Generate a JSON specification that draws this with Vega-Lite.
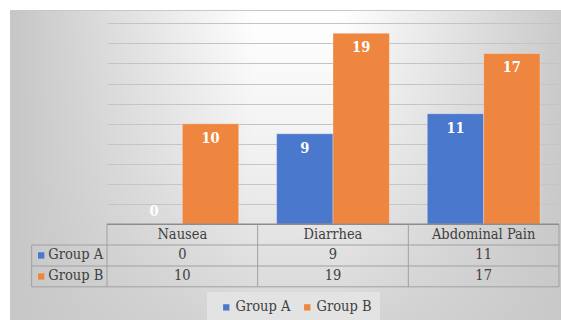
{
  "$schema": "https://vega.github.io/schema/vega-lite/v6.json",
  "width": 551,
  "height": 310,
  "autosize": {"type": "none"},
  "padding": {"left": 10, "top": 10, "right": 0, "bottom": 0},
  "background": "#ffffff",
  "view": {
    "fill": {
      "gradient": "linear", "x1": 0, "y1": 0, "x2": 1, "y2": 0,
      "stops": [
        {"offset": 0, "color": "#c6c6c6"},
        {"offset": 0.44, "color": "#ffffff"},
        {"offset": 0.6, "color": "#ffffff"},
        {"offset": 1, "color": "#cacaca"}
      ]
    },
    "stroke": "#c8c8c8"
  },
  "config": {"font": "DejaVu Serif Condensed, DejaVu Serif"},
  "data": {
    "values": [
      {"symptom": "Nausea", "group": "Group A", "count": 0},
      {"symptom": "Nausea", "group": "Group B", "count": 10},
      {"symptom": "Diarrhea", "group": "Group A", "count": 9},
      {"symptom": "Diarrhea", "group": "Group B", "count": 19},
      {"symptom": "Abdominal Pain", "group": "Group A", "count": 11},
      {"symptom": "Abdominal Pain", "group": "Group B", "count": 17}
    ]
  },
  "layer": [
    {
      "data": {"values": [{}]},
      "mark": {
        "type": "rect",
        "fill": {
          "gradient": "linear", "x1": 0, "y1": 0, "x2": 0, "y2": 1,
          "stops": [
            {"offset": 0, "color": "rgba(200,200,200,0)"},
            {"offset": 0.5, "color": "rgba(200,200,200,0.28)"},
            {"offset": 1, "color": "rgba(200,200,200,0.75)"}
          ]
        }
      },
      "encoding": {
        "y": {"datum": 21.32, "type": "quantitative"},
        "y2": {"datum": -9.52}
      }
    },
    {
      "mark": {"type": "bar", "stroke": "#ffffff", "strokeWidth": 0.6, "strokeOpacity": 0.5},
      "encoding": {
        "x": {
          "field": "symptom", "type": "nominal",
          "scale": {"domain": ["Nausea", "Diarrhea", "Abdominal Pain"], "range": [97, 549], "paddingInner": 0, "paddingOuter": 0},
          "axis": null
        },
        "xOffset": {"field": "group", "scale": {"paddingInner": 0, "paddingOuter": 0.336}},
        "y": {
          "field": "count", "type": "quantitative",
          "scale": {"domain": [-9.52, 21.32], "nice": false, "zero": false},
          "axis": {
            "values": [2, 4, 6, 8, 10, 12, 14, 16, 18, 20], "tickCount": 40,
            "grid": true, "gridColor": "#c4c4c4", "gridWidth": 1,
            "labels": false, "ticks": false, "domain": false, "title": null
          }
        },
        "color": {
          "field": "group", "type": "nominal",
          "scale": {"range": ["#4a78cc", "#ee8640"]},
          "legend": {
            "orient": "none", "legendX": 197, "legendY": 282,
            "direction": "horizontal", "title": null,
            "fillColor": "#e3e3e3", "padding": 8,
            "symbolType": "square", "symbolSize": 40, "symbolStrokeWidth": 0,
            "labelFontSize": 14.5, "labelColor": "#404040",
            "labelOffset": 2, "columnPadding": 5, "symbolOffset": 4
          }
        }
      }
    },
    {
      "transform": [{"filter": "datum.count > 0"}],
      "mark": {"type": "text", "fontWeight": "bold", "fontSize": 14.5, "color": "#ffffff", "baseline": "middle", "dy": 15},
      "encoding": {
        "x": {"field": "symptom", "type": "nominal"},
        "xOffset": {"field": "group"},
        "y": {"field": "count", "type": "quantitative"},
        "text": {"field": "count", "type": "quantitative"}
      }
    },
    {
      "transform": [{"filter": "datum.count == 0"}],
      "mark": {"type": "text", "fontWeight": "bold", "fontSize": 14.5, "color": "#ffffff", "baseline": "middle", "dy": -12},
      "encoding": {
        "x": {"field": "symptom", "type": "nominal"},
        "xOffset": {"field": "group"},
        "y": {"field": "count", "type": "quantitative"},
        "text": {"field": "count", "type": "quantitative"}
      }
    },
    {
      "transform": [{"filter": "datum.group == 'Group A'"}],
      "mark": {"type": "text", "fontSize": 14.5, "color": "#404040", "baseline": "middle"},
      "encoding": {
        "x": {"field": "symptom", "type": "nominal"},
        "y": {"datum": -1.03},
        "text": {"field": "symptom"}
      }
    },
    {
      "transform": [{"filter": "datum.group == 'Group A'"}],
      "mark": {"type": "text", "fontSize": 14.5, "color": "#404040", "baseline": "middle"},
      "encoding": {
        "x": {"field": "symptom", "type": "nominal"},
        "y": {"datum": -3.1},
        "text": {"field": "count", "type": "quantitative"}
      }
    },
    {
      "transform": [{"filter": "datum.group == 'Group B'"}],
      "mark": {"type": "text", "fontSize": 14.5, "color": "#404040", "baseline": "middle"},
      "encoding": {
        "x": {"field": "symptom", "type": "nominal"},
        "y": {"datum": -5.19},
        "text": {"field": "count", "type": "quantitative"}
      }
    },
    {
      "transform": [{"filter": "datum.symptom == 'Nausea' && datum.group == 'Group A'"}],
      "layer": [
        {
          "mark": {"type": "text", "fontSize": 14.5, "color": "#404040", "baseline": "middle", "align": "left"},
          "encoding": {
            "x": {"datum": "Nausea", "bandPosition": -0.39},
            "y": {"datum": -3.1},
            "text": {"field": "group"}
          }
        },
        {
          "mark": {"type": "point", "shape": "square", "filled": true, "size": 40, "opacity": 1},
          "encoding": {
            "x": {"datum": "Nausea", "bandPosition": -0.437},
            "y": {"datum": -3.1},
            "color": {"field": "group", "type": "nominal"}
          }
        }
      ]
    },
    {
      "transform": [{"filter": "datum.symptom == 'Nausea' && datum.group == 'Group B'"}],
      "layer": [
        {
          "mark": {"type": "text", "fontSize": 14.5, "color": "#404040", "baseline": "middle", "align": "left"},
          "encoding": {
            "x": {"datum": "Nausea", "bandPosition": -0.39},
            "y": {"datum": -5.19},
            "text": {"field": "group"}
          }
        },
        {
          "mark": {"type": "point", "shape": "square", "filled": true, "size": 40, "opacity": 1},
          "encoding": {
            "x": {"datum": "Nausea", "bandPosition": -0.437},
            "y": {"datum": -5.19},
            "color": {"field": "group", "type": "nominal"}
          }
        }
      ]
    },
    {
      "data": {"values": [{}]},
      "layer": [
        {
          "mark": {"type": "rule", "color": "#a0a0a0", "strokeWidth": 1},
          "encoding": {
            "x": {"datum": "Nausea", "bandPosition": -0.5},
            "x2": {"datum": "Abdominal Pain", "bandPosition": 1},
            "y": {"datum": -2.06}
          }
        },
        {
          "mark": {"type": "rule", "color": "#a0a0a0", "strokeWidth": 1},
          "encoding": {
            "x": {"datum": "Nausea", "bandPosition": -0.5},
            "x2": {"datum": "Abdominal Pain", "bandPosition": 1},
            "y": {"datum": -4.15}
          }
        },
        {
          "mark": {"type": "rule", "color": "#a0a0a0", "strokeWidth": 1},
          "encoding": {
            "x": {"datum": "Nausea", "bandPosition": -0.5},
            "x2": {"datum": "Abdominal Pain", "bandPosition": 1},
            "y": {"datum": -6.22}
          }
        },
        {
          "mark": {"type": "rule", "color": "#a0a0a0", "strokeWidth": 1},
          "encoding": {
            "x": {"datum": "Nausea", "bandPosition": -0.5},
            "y": {"datum": -2.06},
            "y2": {"datum": -6.22}
          }
        },
        {
          "mark": {"type": "rule", "color": "#a0a0a0", "strokeWidth": 1},
          "encoding": {
            "x": {"datum": "Abdominal Pain", "bandPosition": 1},
            "y": {"datum": 0},
            "y2": {"datum": -6.22}
          }
        },
        {
          "mark": {"type": "rule", "color": "#8c8c8c", "strokeWidth": 1.5},
          "encoding": {
            "x": {"datum": "Nausea", "bandPosition": 0},
            "x2": {"datum": "Abdominal Pain", "bandPosition": 1},
            "y": {"datum": 0}
          }
        }
      ]
    },
    {
      "transform": [{"filter": "datum.group == 'Group A'"}],
      "mark": {"type": "rule", "color": "#a0a0a0", "strokeWidth": 1},
      "encoding": {
        "x": {"field": "symptom", "type": "nominal", "bandPosition": 0},
        "y": {"datum": 0},
        "y2": {"datum": -6.22}
      }
    }
  ]
}
